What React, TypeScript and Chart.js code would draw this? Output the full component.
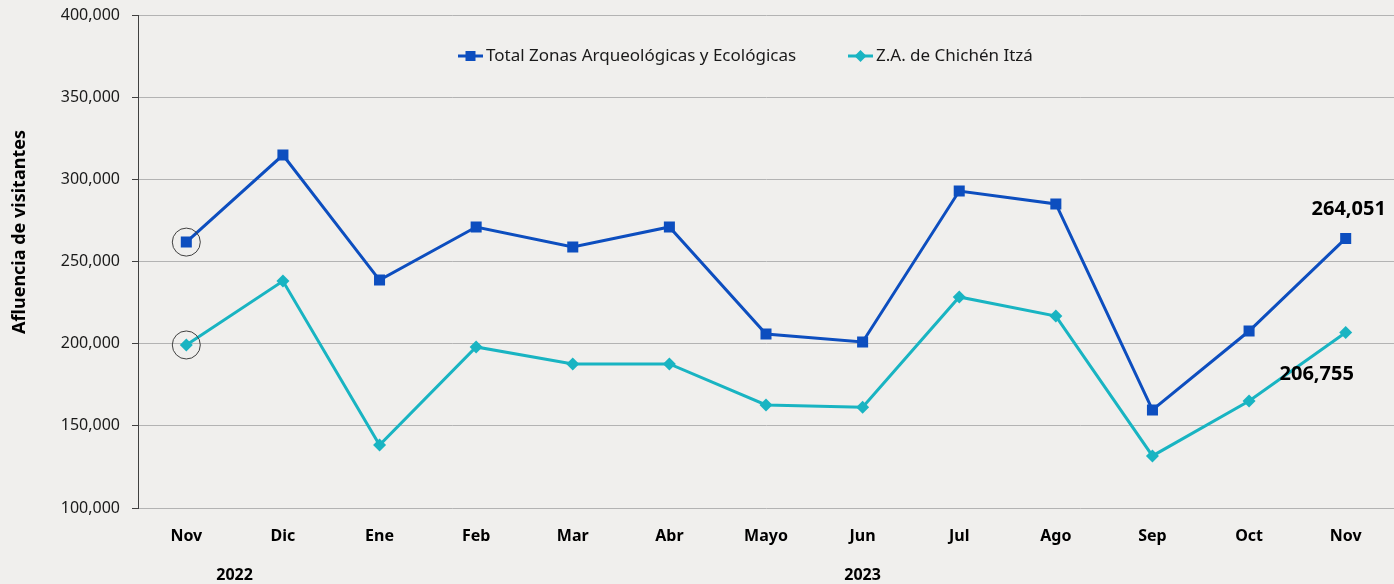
import { useEffect, useRef } from "react";
import { Chart, registerables } from "chart.js";

Chart.register(...registerables);

const months = ["Nov", "Dic", "Ene", "Feb", "Mar", "Abr", "Mayo", "Jun", "Jul", "Ago", "Sep", "Oct", "Nov"];
const totalZonas = [261800, 314800, 238700, 271000, 258800, 271000, 205900, 201000, 292900, 285000, 159700, 207700, 264051];
const chichenItza = [199200, 238100, 138300, 198000, 187700, 187700, 162700, 161300, 228400, 216800, 131700, 165100, 206755];
const years = ["2022", "2023"];
const yearSpans = [[0, 1], [2, 12]];
const yTicks = [100000, 150000, 200000, 250000, 300000, 350000, 400000];
const seriesNames = ["Total Zonas Arqueológicas y Ecológicas", "Z.A. de Chichén Itzá"];

const BLUE = "#0D4EBF";
const TEAL = "#19B4C2";
const FONT = "'Noto Sans', sans-serif";

const fmt = (v: number) => v.toLocaleString("en-US");

const decor = {
  id: "decor",
  beforeDraw(chart: any) {
    const { ctx, width, height } = chart;
    ctx.save();
    ctx.fillStyle = "#f0efed";
    ctx.fillRect(0, 0, width, height);
    ctx.restore();
  },
  afterDraw(chart: any) {
    const { ctx } = chart;
    const xs = chart.scales.x;
    ctx.save();
    // y axis title
    ctx.fillStyle = "#000";
    ctx.font = `bold 18px ${FONT}`;
    ctx.textAlign = "center";
    ctx.textBaseline = "middle";
    ctx.translate(20, 232);
    ctx.rotate(-Math.PI / 2);
    ctx.fillText("Afluencia de visitantes", 0, 0);
    ctx.setTransform(1, 0, 0, 1, 0, 0);

    // year labels
    ctx.font = `bold 16px ${FONT}`;
    ctx.textAlign = "center";
    ctx.textBaseline = "middle";
    years.forEach((yr, i) => {
      const [a, b] = yearSpans[i];
      const cx = (xs.getPixelForValue(a) + xs.getPixelForValue(b)) / 2;
      ctx.fillText(yr, cx, 575);
    });

    // legend
    const legendItems = [
      { x: 458, color: BLUE, shape: "square" },
      { x: 848, color: TEAL, shape: "diamond" },
    ];
    ctx.font = `17px ${FONT}`;
    ctx.textAlign = "left";
    ctx.textBaseline = "middle";
    legendItems.forEach((it, i) => {
      const y = 56;
      ctx.strokeStyle = it.color;
      ctx.lineWidth = 3;
      ctx.beginPath();
      ctx.moveTo(it.x, y);
      ctx.lineTo(it.x + 25, y);
      ctx.stroke();
      ctx.fillStyle = it.color;
      const cx = it.x + 12.5;
      if (it.shape === "square") {
        ctx.fillRect(cx - 5, y - 5, 10, 10);
      } else {
        ctx.beginPath();
        ctx.moveTo(cx, y - 6);
        ctx.lineTo(cx + 6, y);
        ctx.lineTo(cx, y + 6);
        ctx.lineTo(cx - 6, y);
        ctx.closePath();
        ctx.fill();
      }
      ctx.fillStyle = "#1a1a1a";
      ctx.fillText(seriesNames[i], it.x + 28, y);
    });

    // highlight circles on first points
    const m0 = chart.getDatasetMeta(0).data[0];
    const m1 = chart.getDatasetMeta(1).data[0];
    ctx.strokeStyle = "#404040";
    ctx.lineWidth = 1;
    [m0, m1].forEach((p: any) => {
      ctx.beginPath();
      ctx.arc(p.x, p.y, 14, 0, Math.PI * 2);
      ctx.stroke();
    });

    // last value labels
    const last = months.length - 1;
    const p0 = chart.getDatasetMeta(0).data[last];
    const p1 = chart.getDatasetMeta(1).data[last];
    ctx.fillStyle = "#000";
    ctx.font = `bold 20px ${FONT}`;
    ctx.textAlign = "center";
    ctx.textBaseline = "middle";
    ctx.fillText(fmt(totalZonas[last]), p0.x + 3, p0.y - 29);
    ctx.fillText(fmt(chichenItza[last]), p1.x - 29, p1.y + 42);
    ctx.restore();
  },
};

export default function App() {
  const ref = useRef<HTMLCanvasElement | null>(null);
  useEffect(() => {
    document.body.style.margin = "0";
    const chart = new Chart(ref.current as HTMLCanvasElement, {
      type: "line",
      data: {
        labels: months,
        datasets: [
          {
            label: seriesNames[0],
            data: totalZonas,
            borderColor: BLUE,
            backgroundColor: BLUE,
            borderWidth: 3,
            pointStyle: "rect",
            pointRadius: 7.8,
            pointBorderWidth: 0,
            tension: 0,
          },
          {
            label: seriesNames[1],
            data: chichenItza,
            borderColor: TEAL,
            backgroundColor: TEAL,
            borderWidth: 3,
            pointStyle: "rectRot",
            pointRadius: 6.5,
            pointBorderWidth: 0,
            tension: 0,
          },
        ],
      },
      options: {
        animation: false,
        responsive: false,
        maintainAspectRatio: false,
        layout: { autoPadding: false, padding: { top: 15, right: 0, left: 0, bottom: 0 } },
        plugins: { legend: { display: false }, tooltip: { enabled: false } },
        scales: {
          x: {
            offset: true,
            grid: { display: false },
            border: { display: false },
            ticks: { color: "#000", font: { family: FONT, size: 16, weight: "bold" }, padding: 11 },
            afterFit: (s: any) => {
              s.height = 76;
              s.paddingLeft = 0;
              s.paddingRight = 0;
            },
          },
          y: {
            min: 100000,
            max: 400000,
            afterBuildTicks: (s: any) => {
              s.ticks = yTicks.map((v) => ({ value: v }));
            },
            grid: { color: "#b3b3b3", lineWidth: 1, tickColor: "#404040", tickLength: 6 },
            border: { display: true, color: "#404040", width: 1 },
            ticks: {
              color: "#1a1a1a",
              font: { family: FONT, size: 16 },
              padding: 12,
              callback: (v: any) => fmt(Number(v)),
            },
            afterFit: (s: any) => {
              s.width = 138;
              s.paddingTop = 0;
              s.paddingBottom = 0;
            },
          },
        },
      },
      plugins: [decor],
    });
    return () => chart.destroy();
  }, []);
  return (
    <div style={{ width: 1394, height: 584 }}>
      <canvas ref={ref} width={1394} height={584} style={{ display: "block" }} />
    </div>
  );
}
